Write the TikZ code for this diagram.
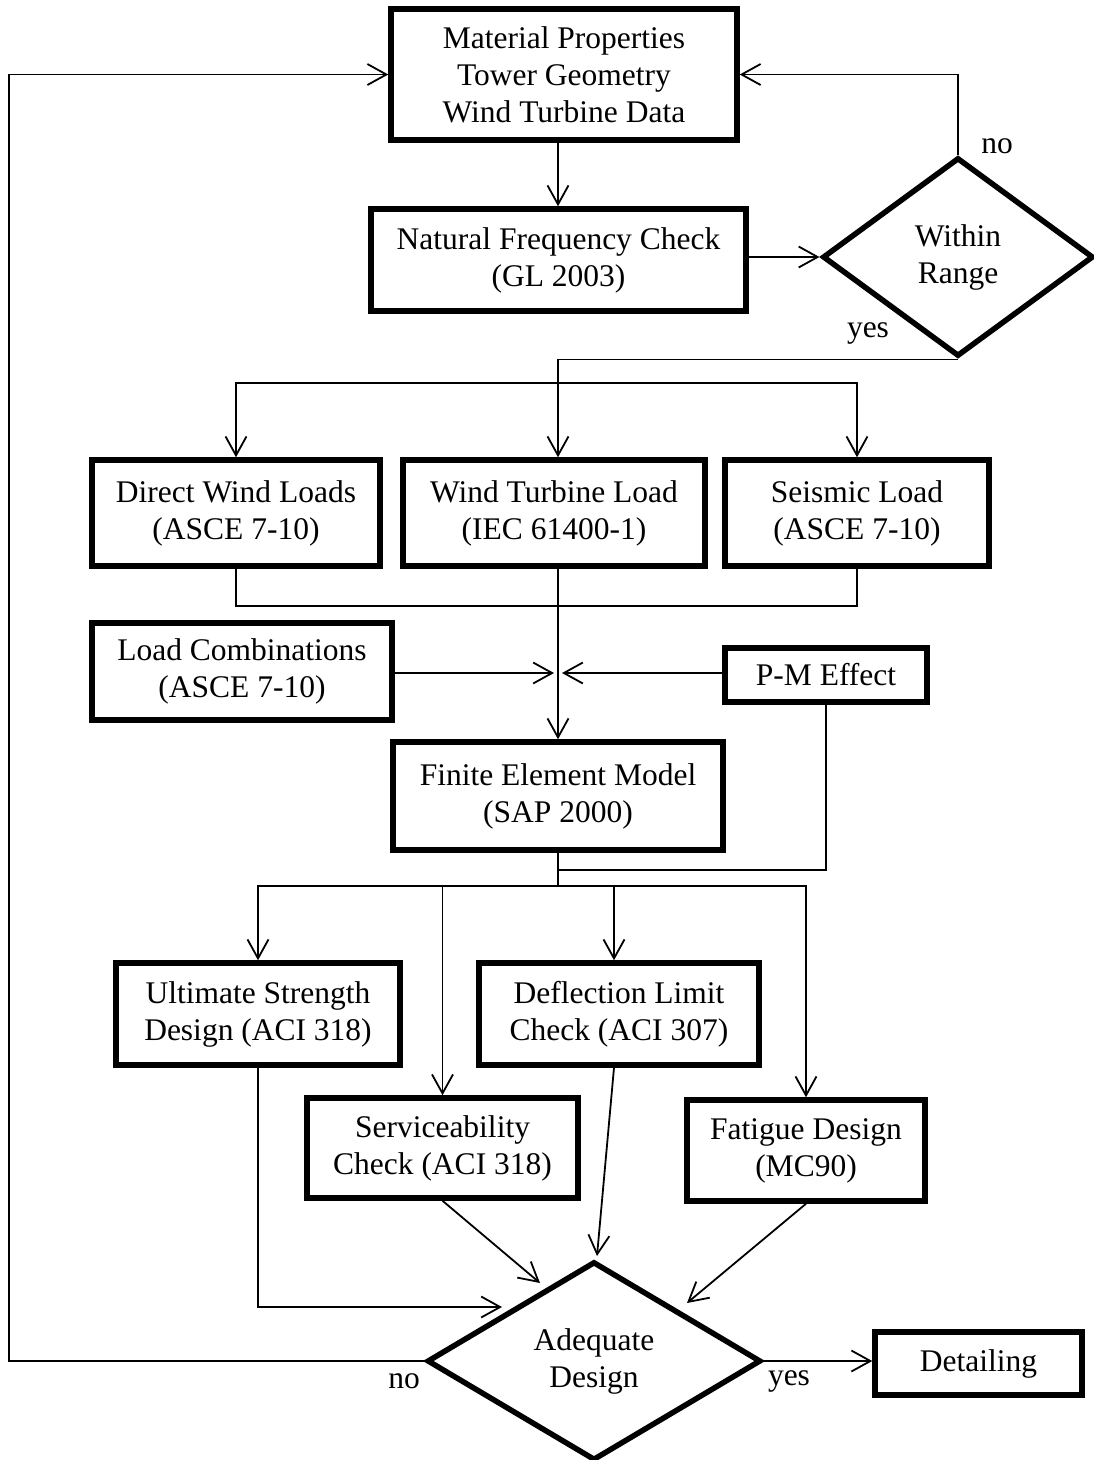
\documentclass[tikz,border=0pt]{standalone}
\usepackage{fontspec}
\setmainfont{Liberation Serif}
\usetikzlibrary{arrows.meta,shapes.geometric,calc}
\begin{document}
\begin{tikzpicture}[x=1pt,y=-1pt,
  txt/.style={font=\fontsize{31.5}{37}\selectfont},
  box/.style={txt, draw, line width=5.5pt, align=center, inner sep=0pt},
  dia/.style={txt, draw, diamond, line width=5.5pt, align=center, inner sep=0pt, outer sep=3pt},
  conn/.style={line width=1.8pt},
  arr/.style={conn, -{Straight Barb[length=19pt,width=21pt,line width=1.8pt]}},
  lbl/.style={txt, inner sep=0pt}]
\useasboundingbox (0,0) rectangle (1094,1460);
\fill[white] (0,0) rectangle (1094,1460);

% nodes
\node[box, minimum width=346pt, minimum height=131pt] (mat) at (564,74.5) {Material Properties\\Tower Geometry\\Wind Turbine Data};
\node[box, minimum width=375pt, minimum height=102pt] (nf) at (558.5,260) {Natural Frequency Check\\(GL 2003)};
\node[dia, minimum width=271pt, minimum height=199pt] (wr) at (958,257) {Within\\Range};
\node[box, minimum width=288pt, minimum height=106pt] (dw) at (236,513) {Direct Wind Loads\\(ASCE 7-10)};
\node[box, minimum width=302pt, minimum height=106pt] (wt) at (554,513) {Wind Turbine Load\\(IEC 61400-1)};
\node[box, minimum width=264pt, minimum height=106pt] (sl) at (857,513) {Seismic Load\\(ASCE 7-10)};
\node[box, minimum width=300pt, minimum height=97pt] (lc) at (242,671.5) {Load Combinations\\(ASCE 7-10)};
\node[box, minimum width=202pt, minimum height=54pt] (pm) at (826,675) {P-M Effect};
\node[box, minimum width=330pt, minimum height=108pt] (fem) at (558,796) {Finite Element Model\\(SAP 2000)};
\node[box, minimum width=284pt, minimum height=102pt] (us) at (258,1014) {Ultimate Strength\\Design (ACI 318)};
\node[box, minimum width=280pt, minimum height=102pt] (dl) at (619,1014) {Deflection Limit\\Check (ACI 307)};
\node[box, minimum width=271pt, minimum height=100pt] (sv) at (442.5,1148) {Serviceability\\Check (ACI 318)};
\node[box, minimum width=238pt, minimum height=101pt] (fd) at (806,1150.5) {Fatigue Design\\(MC90)};
\node[dia, minimum width=334pt, minimum height=199pt] (ad) at (594,1361) {Adequate\\Design};
\node[box, minimum width=207pt, minimum height=63pt] (det) at (978.5,1363.5) {Detailing};

% labels
\node[lbl] (no1) at (997,146) {no};
\node[lbl] (yes1) at (868,333) {yes};
\node[lbl] (no2) at (404,1381) {no};
\node[lbl] (yes2) at (789,1381) {yes};

% helper coordinates
\coordinate (ax) at (558,0);
\coordinate (lft) at (9,0);
\coordinate (br1) at (558,383);
\coordinate (col) at (558,606);
\coordinate (mid) at (558,673);
\coordinate (pmj) at (558,870);
\coordinate (br2) at (558,886);
\coordinate (t1) at (502,1307);
\coordinate (svt) at (540,1283);
\coordinate (dlt) at (597,1256);
\coordinate (fdt) at (687,1303);

% connectors
\draw[arr] (ax |- mat.south) -- (ax |- nf.north);
\draw[arr] (nf.east |- wr.west) -- (wr.west);
\draw[arr] (wr.north) |- (mat.east);
\draw[arr] (wr.south) -| (ax |- wt.north);
\draw[arr] (br1) -| (dw.north);
\draw[arr] (br1) -| (sl.north);
\draw[conn] (dw.south) |- (col) -| (sl.south);
\draw[arr] (ax |- wt.south) -- (ax |- fem.north);
\draw[arr, shorten >=4pt] (lc.east |- mid) -- (mid);
\draw[arr, shorten >=4pt] (pm.west |- mid) -- (mid);
\draw[conn] (pm.south) |- (pmj);
\draw[conn] (ax |- fem.south) -- (br2);
\draw[arr] (br2) -| (us.north);
\draw[arr] (br2) -| (sv.north);
\draw[arr] (br2) -| ($(dl.north)+(-5,0)$);
\draw[arr] (br2) -| (fd.north);
\draw[arr] (us.south) |- (t1);
\draw[arr] (sv.south) -- (svt);
\draw[arr] ($(dl.south)+(-5,0)$) -- (dlt);
\draw[arr] (fd.south) -- (fdt);
\draw[arr] (ad.west) -| (lft |- mat.west) -- (mat.west);
\draw[arr] (ad.east) -- (det.west |- ad.east);
\end{tikzpicture}
\end{document}
